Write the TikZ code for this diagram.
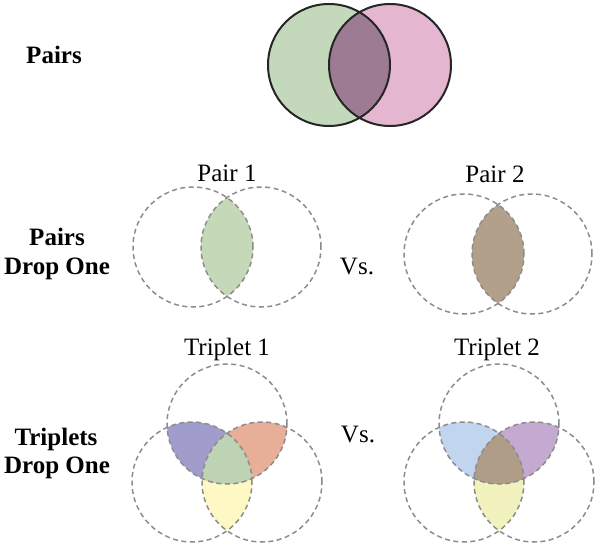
\documentclass[tikz,border=0pt]{standalone}
\usepackage{fontspec}
\setmainfont{Liberation Serif}
\usepackage{tikz}
\definecolor{pairgreen}{HTML}{C4D9BC}
\definecolor{pairpink}{HTML}{E4B6CF}
\definecolor{pairmix}{HTML}{9D7B93}
\definecolor{lensgreen}{HTML}{C5D9B9}
\definecolor{lensbrown}{HTML}{B3A08B}
\definecolor{tapurple}{HTML}{A09CCB}
\definecolor{taorange}{HTML}{E7AE98}
\definecolor{tagreen}{HTML}{BDD3B3}
\definecolor{tayellow}{HTML}{FDF8C4}
\definecolor{tbblue}{HTML}{C1D5EE}
\definecolor{tbpurple}{HTML}{C4A9D1}
\definecolor{tbbrown}{HTML}{B09D88}
\definecolor{tbyellow}{HTML}{F2F2BE}
\tikzstyle{ring}=[draw=black!45, line width=1.5pt, dash pattern=on 5pt off 3.5pt]
\tikzstyle{lbl}=[font=\fontsize{25}{30}\selectfont, anchor=base, inner sep=0pt]
\tikzstyle{blbl}=[font=\fontsize{25}{30}\selectfont\bfseries, anchor=base, inner sep=0pt]
\def\rr{60pt}

\begin{document}
\begin{tikzpicture}[x=1pt,y=-1pt]
\useasboundingbox (0,0) rectangle (600,546);
% row labels
\node[blbl] (pairs) at (54,63) {Pairs};
\node[blbl] (pdropa) at (57,245) {Pairs};
\node[blbl] (pdropb) at (57,274) {Drop One};
\node[blbl] (tdropa) at (56,445) {Triplets};
\node[blbl] (tdropb) at (57,473) {Drop One};
\node[lbl] (pairone) at (227,181) {Pair 1};
\node[lbl] (pairtwo) at (495,182) {Pair 2};
\node[lbl] (tripone) at (227,355) {Triplet 1};
\node[lbl] (triptwo) at (497,355) {Triplet 2};
\node[lbl] (vsa) at (357,274) {Vs.};
\node[lbl] (vsb) at (358,442) {Vs.};

% pairs
\coordinate (pl) at (329,65);
\coordinate (pr) at (390,65);
\fill[pairgreen] (pl) circle (61pt);
\fill[pairpink] (pr) circle (61pt);
\begin{scope}
\clip (pl) circle (61pt);
\fill[pairmix] (pr) circle (61pt);
\end{scope}
\draw[line width=2pt, black!85] (pl) circle (61pt) (pr) circle (61pt);

% pair 1
\coordinate (al) at (193,247);
\coordinate (ar) at (261,247);
\begin{scope}
\clip (al) circle (\rr);
\fill[lensgreen] (ar) circle (\rr);
\end{scope}
\draw[ring] (al) circle (\rr) (ar) circle (\rr);

% pair 2
\coordinate (bl) at (464,254);
\coordinate (br) at (532,254);
\begin{scope}
\clip (bl) circle (\rr);
\fill[lensbrown] (br) circle (\rr);
\end{scope}
\draw[ring] (bl) circle (\rr) (br) circle (\rr);

% triplet 1
\coordinate (ct) at (227,424);
\coordinate (cl) at (192,482);
\coordinate (cr) at (262,482);
\begin{scope}
\clip (cl) circle (\rr);
\fill[tayellow] (cr) circle (\rr);
\end{scope}
\begin{scope}
\clip (ct) circle (\rr);
\fill[tapurple] (cl) circle (\rr);
\fill[taorange] (cr) circle (\rr);
\clip (cl) circle (\rr);
\fill[tagreen] (cr) circle (\rr);
\end{scope}
\draw[ring] (ct) circle (\rr) (cl) circle (\rr) (cr) circle (\rr);

% triplet 2
\coordinate (dt) at (499,424);
\coordinate (dl) at (464,482);
\coordinate (dr) at (534,482);
\begin{scope}
\clip (dl) circle (\rr);
\fill[tbyellow] (dr) circle (\rr);
\end{scope}
\begin{scope}
\clip (dt) circle (\rr);
\fill[tbblue] (dl) circle (\rr);
\fill[tbpurple] (dr) circle (\rr);
\clip (dl) circle (\rr);
\fill[tbbrown] (dr) circle (\rr);
\end{scope}
\draw[ring] (dt) circle (\rr) (dl) circle (\rr) (dr) circle (\rr);
\end{tikzpicture}
\end{document}
